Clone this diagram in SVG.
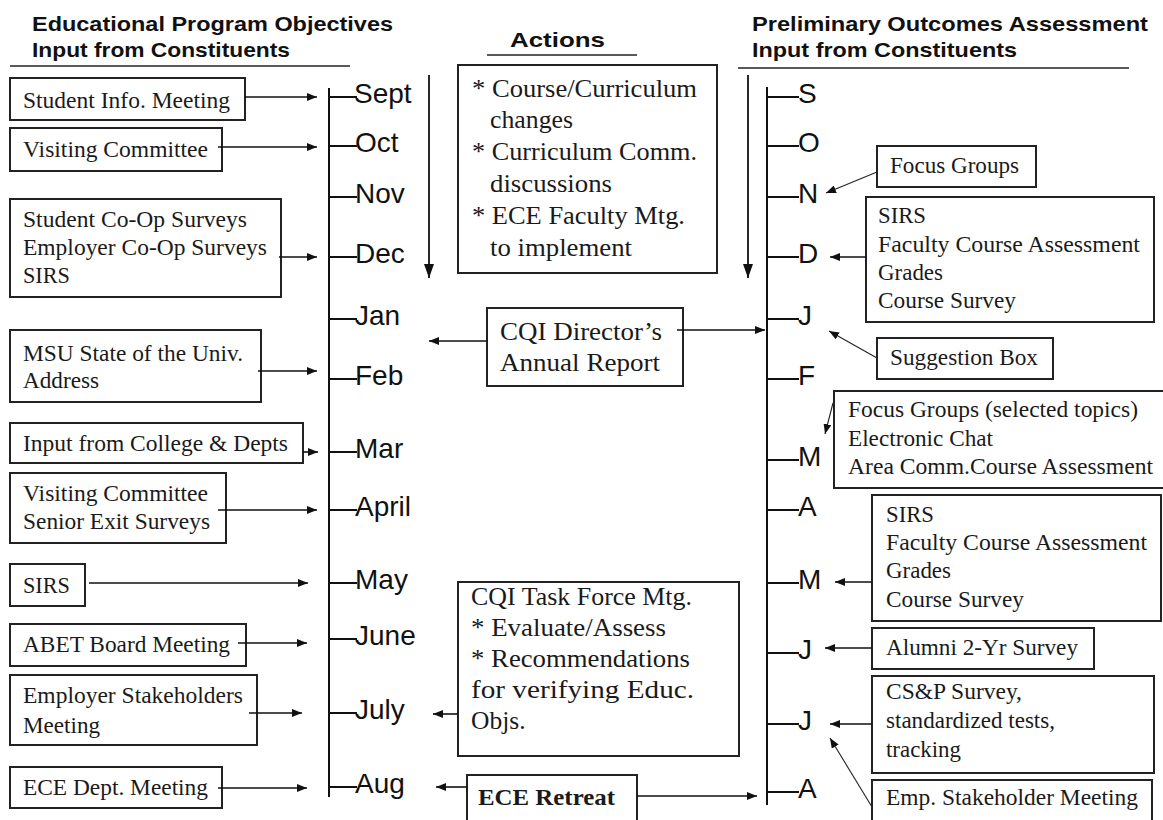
<svg xmlns="http://www.w3.org/2000/svg" width="1163" height="820" viewBox="0 0 1163 820">
<defs>
<style>
.bx{fill:#fff;stroke:#222;stroke-width:2}
.t{font-family:"Liberation Serif","Times New Roman",serif;font-size:23.5px;fill:#1a1a1a}
.tc{font-size:25.5px}
.m{font-family:"Liberation Sans",Arial,sans-serif;font-size:28px;fill:#111}
.h{font-family:"Liberation Sans",Arial,sans-serif;font-weight:bold;font-size:21px;fill:#111}
.ln{stroke:#111;stroke-width:2;fill:none}
.ul{stroke:#222;stroke-width:1.6;fill:none}
.c{stroke:#111;stroke-width:1.6;fill:none;marker-end:url(#ah)}
.ct{stroke:#222;stroke-width:1.1;fill:none;marker-end:url(#ah)}
.cd{stroke:#111;stroke-width:1.8;fill:none;marker-end:url(#big)}
</style>
<marker id="ah" markerUnits="userSpaceOnUse" markerWidth="10" markerHeight="8" refX="10" refY="4" orient="auto"><path d="M0,0 L10,4 L0,8 z" fill="#111"/></marker>
<marker id="big" markerUnits="userSpaceOnUse" markerWidth="14" markerHeight="10" refX="14" refY="5" orient="auto"><path d="M0,0 L14,5 L0,10 z" fill="#111"/></marker>
</defs>
<rect width="1163" height="820" fill="#fff"/>

<g id="headers">
<text class="h" x="32" y="31" textLength="361" lengthAdjust="spacingAndGlyphs">Educational Program Objectives</text>
<text class="h" x="32" y="57" textLength="258" lengthAdjust="spacingAndGlyphs">Input from Constituents</text>
<line class="ul" x1="10" y1="66" x2="350" y2="66"/>
<text class="h" x="510" y="47" textLength="95" lengthAdjust="spacingAndGlyphs">Actions</text>
<line class="ul" x1="487" y1="55" x2="637" y2="55"/>
<text class="h" x="752" y="31" textLength="396" lengthAdjust="spacingAndGlyphs">Preliminary Outcomes Assessment</text>
<text class="h" x="752" y="57" textLength="265" lengthAdjust="spacingAndGlyphs">Input from Constituents</text>
<line class="ul" x1="738" y1="68" x2="1129" y2="68"/>
</g>

<g id="timeline-left">
<line class="ln" x1="329" y1="88" x2="329" y2="797"/>
<path class="ln" d="M329,97H357M329,146H357M329,197H357M329,257H357M329,319H357M329,379H357M329,452H357M329,510H357M329,583H357M329,639H357M329,713H357M329,787H357"/>
<text class="m" x="354" y="103">Sept</text>
<text class="m" x="355" y="152">Oct</text>
<text class="m" x="355" y="203">Nov</text>
<text class="m" x="355" y="263">Dec</text>
<text class="m" x="355" y="325">Jan</text>
<text class="m" x="355" y="385">Feb</text>
<text class="m" x="355" y="458">Mar</text>
<text class="m" x="355" y="516">April</text>
<text class="m" x="355" y="589">May</text>
<text class="m" x="355" y="645">June</text>
<text class="m" x="355" y="719">July</text>
<text class="m" x="355" y="793">Aug</text>
</g>

<g id="timeline-right">
<line class="ln" x1="767" y1="87" x2="767" y2="805"/>
<path class="ln" d="M767,97H799M767,146H799M767,197H799M767,257H799M767,319H799M767,379H799M767,460H799M767,510H799M767,583H799M767,653H799M767,724H799M767,792H799"/>
<text class="m" x="798" y="103">S</text>
<text class="m" x="798" y="152">O</text>
<text class="m" x="798" y="203">N</text>
<text class="m" x="798" y="263">D</text>
<text class="m" x="798" y="325">J</text>
<text class="m" x="798" y="385">F</text>
<text class="m" x="798" y="466">M</text>
<text class="m" x="798" y="516">A</text>
<text class="m" x="798" y="589">M</text>
<text class="m" x="798" y="659">J</text>
<text class="m" x="798" y="730">J</text>
<text class="m" x="798" y="798">A</text>
</g>

<g id="n-student-info"><rect class="bx" x="10" y="78" width="235" height="42"/><text class="t" x="23" y="108" textLength="207" lengthAdjust="spacingAndGlyphs">Student Info. Meeting</text></g>
<g id="n-visiting1"><rect class="bx" x="10" y="128" width="212" height="43"/><text class="t" x="23" y="157" textLength="185" lengthAdjust="spacingAndGlyphs">Visiting Committee</text></g>
<g id="n-coop"><rect class="bx" x="10" y="199" width="271" height="98"/>
<text class="t" x="23" y="227" textLength="224" lengthAdjust="spacingAndGlyphs">Student Co-Op Surveys</text>
<text class="t" x="23" y="255" textLength="244" lengthAdjust="spacingAndGlyphs">Employer Co-Op Surveys</text>
<text class="t" x="23" y="283" textLength="47" lengthAdjust="spacingAndGlyphs">SIRS</text></g>
<g id="n-msu"><rect class="bx" x="10" y="330" width="251" height="72"/>
<text class="t" x="23" y="361" textLength="220" lengthAdjust="spacingAndGlyphs">MSU State of the Univ.</text>
<text class="t" x="23" y="388" textLength="76" lengthAdjust="spacingAndGlyphs">Address</text></g>
<g id="n-college"><rect class="bx" x="10" y="423" width="293" height="40"/><text class="t" x="23" y="451" textLength="265" lengthAdjust="spacingAndGlyphs">Input from College &amp; Depts</text></g>
<g id="n-visiting2"><rect class="bx" x="10" y="473" width="216" height="70"/>
<text class="t" x="23" y="501" textLength="185" lengthAdjust="spacingAndGlyphs">Visiting Committee</text>
<text class="t" x="23" y="529" textLength="187" lengthAdjust="spacingAndGlyphs">Senior Exit Surveys</text></g>
<g id="n-sirs-left"><rect class="bx" x="10" y="564" width="75" height="42"/><text class="t" x="23" y="593" textLength="47" lengthAdjust="spacingAndGlyphs">SIRS</text></g>
<g id="n-abet"><rect class="bx" x="10" y="624" width="236" height="42"/><text class="t" x="23" y="652" textLength="207" lengthAdjust="spacingAndGlyphs">ABET Board Meeting</text></g>
<g id="n-employer"><rect class="bx" x="10" y="675" width="247" height="70"/>
<text class="t" x="23" y="703" textLength="220" lengthAdjust="spacingAndGlyphs">Employer Stakeholders</text>
<text class="t" x="23" y="733" textLength="77" lengthAdjust="spacingAndGlyphs">Meeting</text></g>
<g id="n-ece-dept"><rect class="bx" x="10" y="767" width="212" height="41"/><text class="t" x="23" y="795" textLength="185" lengthAdjust="spacingAndGlyphs">ECE Dept. Meeting</text></g>

<g id="n-actions"><rect class="bx" x="458" y="65" width="259" height="208"/>
<text class="t tc" x="472" y="97" textLength="225" lengthAdjust="spacingAndGlyphs">* Course/Curriculum</text>
<text class="t tc" x="490" y="128" textLength="83" lengthAdjust="spacingAndGlyphs">changes</text>
<text class="t tc" x="472" y="160" textLength="225" lengthAdjust="spacingAndGlyphs">* Curriculum Comm.</text>
<text class="t tc" x="490" y="192" textLength="122" lengthAdjust="spacingAndGlyphs">discussions</text>
<text class="t tc" x="472" y="224" textLength="213" lengthAdjust="spacingAndGlyphs">* ECE Faculty Mtg.</text>
<text class="t tc" x="490" y="256" textLength="142" lengthAdjust="spacingAndGlyphs">to implement</text></g>
<g id="n-cqi-director"><rect class="bx" x="487" y="308" width="196" height="78"/>
<text class="t tc" x="500" y="340" textLength="162" lengthAdjust="spacingAndGlyphs">CQI Director’s</text>
<text class="t tc" x="500" y="371" textLength="160" lengthAdjust="spacingAndGlyphs">Annual Report</text></g>
<g id="n-cqi-task"><rect class="bx" x="458" y="582" width="281" height="174"/>
<text class="t tc" x="471" y="605" textLength="221" lengthAdjust="spacingAndGlyphs">CQI Task Force Mtg.</text>
<text class="t tc" x="471" y="636" textLength="195" lengthAdjust="spacingAndGlyphs">* Evaluate/Assess</text>
<text class="t tc" x="471" y="667" textLength="219" lengthAdjust="spacingAndGlyphs">* Recommendations</text>
<text class="t tc" x="471" y="698" textLength="223" lengthAdjust="spacingAndGlyphs">for verifying Educ.</text>
<text class="t tc" x="471" y="729">Objs.</text></g>
<g id="n-ece-retreat"><rect class="bx" x="467" y="775" width="170" height="52"/><text class="t" x="478" y="805" font-weight="bold" font-size="25" textLength="137" lengthAdjust="spacingAndGlyphs">ECE Retreat</text></g>

<g id="n-focus"><rect class="bx" x="877" y="146" width="159" height="41"/><text class="t" x="890" y="173" textLength="129" lengthAdjust="spacingAndGlyphs">Focus Groups</text></g>
<g id="n-sirs-d"><rect class="bx" x="866" y="197" width="288" height="125"/>
<text class="t" x="878" y="223" textLength="48" lengthAdjust="spacingAndGlyphs">SIRS</text>
<text class="t" x="878" y="252" textLength="262" lengthAdjust="spacingAndGlyphs">Faculty Course Assessment</text>
<text class="t" x="878" y="280" textLength="65" lengthAdjust="spacingAndGlyphs">Grades</text>
<text class="t" x="878" y="308" textLength="138" lengthAdjust="spacingAndGlyphs">Course Survey</text></g>
<g id="n-suggestion"><rect class="bx" x="877" y="338" width="176" height="41"/><text class="t" x="890" y="365" textLength="148" lengthAdjust="spacingAndGlyphs">Suggestion Box</text></g>
<g id="n-focus-sel"><rect class="bx" x="834" y="391" width="335" height="97"/>
<text class="t" x="848" y="417" textLength="290" lengthAdjust="spacingAndGlyphs">Focus Groups (selected topics)</text>
<text class="t" x="848" y="446" textLength="145" lengthAdjust="spacingAndGlyphs">Electronic Chat</text>
<text class="t" x="848" y="474" textLength="305" lengthAdjust="spacingAndGlyphs">Area Comm.Course Assessment</text></g>
<g id="n-sirs-m"><rect class="bx" x="872" y="495" width="289" height="126"/>
<text class="t" x="886" y="522" textLength="48" lengthAdjust="spacingAndGlyphs">SIRS</text>
<text class="t" x="886" y="550" textLength="261" lengthAdjust="spacingAndGlyphs">Faculty Course Assessment</text>
<text class="t" x="886" y="578" textLength="65" lengthAdjust="spacingAndGlyphs">Grades</text>
<text class="t" x="886" y="607" textLength="138" lengthAdjust="spacingAndGlyphs">Course Survey</text></g>
<g id="n-alumni"><rect class="bx" x="872" y="628" width="222" height="41"/><text class="t" x="886" y="655" textLength="192" lengthAdjust="spacingAndGlyphs">Alumni 2-Yr Survey</text></g>
<g id="n-csp"><rect class="bx" x="872" y="676" width="282" height="97"/>
<text class="t" x="886" y="699" textLength="136" lengthAdjust="spacingAndGlyphs">CS&amp;P Survey,</text>
<text class="t" x="886" y="728" textLength="169" lengthAdjust="spacingAndGlyphs">standardized tests,</text>
<text class="t" x="886" y="757" textLength="75" lengthAdjust="spacingAndGlyphs">tracking</text></g>
<g id="n-emp"><rect class="bx" x="872" y="780" width="280" height="47"/><text class="t" x="886" y="805" textLength="252" lengthAdjust="spacingAndGlyphs">Emp. Stakeholder Meeting</text></g>

<g id="connectors">
<line class="c" x1="245" y1="97" x2="317" y2="97"/>
<line class="c" x1="218" y1="147" x2="317" y2="147"/>
<line class="c" x1="279" y1="257" x2="317" y2="257"/>
<line class="c" x1="258" y1="371" x2="317" y2="371"/>
<line class="c" x1="303" y1="452" x2="318" y2="452"/>
<line class="c" x1="218" y1="510" x2="317" y2="510"/>
<line class="c" x1="89" y1="583" x2="308" y2="583"/>
<line class="c" x1="238" y1="643" x2="307" y2="643"/>
<line class="c" x1="249" y1="713" x2="302" y2="713"/>
<line class="c" x1="218" y1="788" x2="307" y2="788"/>
<line class="cd" x1="429" y1="75" x2="429" y2="278"/>
<line class="cd" x1="748" y1="75" x2="748" y2="278"/>
<line class="c" x1="487" y1="341" x2="429" y2="341"/>
<line class="c" x1="677" y1="330" x2="765" y2="330"/>
<line class="c" x1="458" y1="714" x2="433" y2="714"/>
<line class="c" x1="467" y1="787" x2="436" y2="787"/>
<line class="c" x1="637" y1="796" x2="757" y2="796"/>
<line class="ct" x1="877" y1="172" x2="826" y2="193"/>
<line class="c" x1="866" y1="257" x2="830" y2="257"/>
<line class="ct" x1="877" y1="358" x2="829" y2="331"/>
<line class="ct" x1="833" y1="403" x2="825" y2="434"/>
<line class="c" x1="872" y1="582" x2="835" y2="582"/>
<line class="c" x1="872" y1="648" x2="825" y2="648"/>
<line class="c" x1="872" y1="724" x2="830" y2="724"/>
<line class="ct" x1="872" y1="807" x2="830" y2="738"/>
</g>
</svg>
